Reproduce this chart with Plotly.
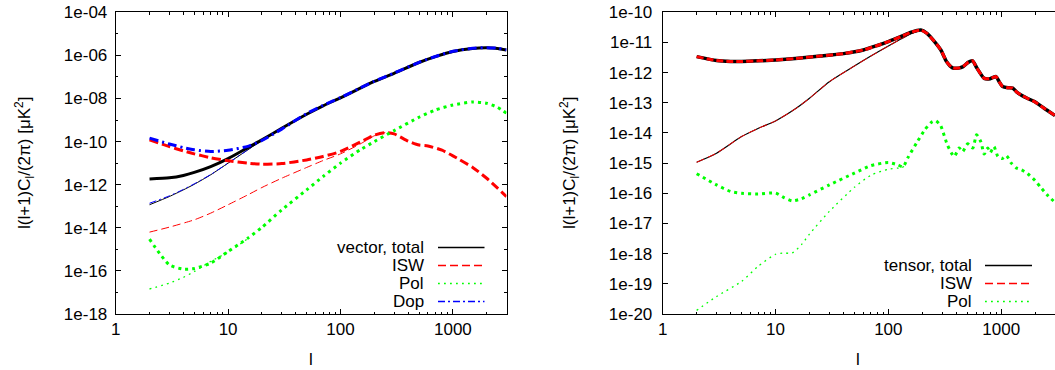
import numpy as np
import plotly.graph_objects as go

# Left panel: vector modes
vec_l = [2, 3, 4, 5, 7, 10, 15, 20, 30, 50, 70, 100, 150, 200, 300, 500, 700, 1000, 1500, 2000, 2500, 3000]
vec_total = [-11.73, -11.68, -11.57, -11.43, -11.16, -10.79, -10.28, -9.92, -9.38, -8.73, -8.34, -7.97,
             -7.52, -7.21, -6.83, -6.33, -6.06, -5.82, -5.68, -5.65, -5.68, -5.75]
vec_dop = [-9.84, -10.11, -10.28, -10.38, -10.46, -10.40, -10.22, -9.95, -9.42, -8.70, -8.32, -7.96,
           -7.51, -7.20, -6.82, -6.32, -6.05, -5.81, -5.67, -5.64, -5.67, -5.74]
vec_pol = [-14.53, -15.72, -15.92, -15.89, -15.64, -15.10, -14.48, -13.98, -13.17, -12.24, -11.62, -11.00,
           -10.38, -10.00, -9.49, -8.87, -8.53, -8.30, -8.16, -8.22, -8.41, -8.68]
vec_isw_l = [2, 3, 4, 5, 7, 10, 15, 20, 30, 50, 70, 100, 150, 200, 250, 300, 400, 500, 600, 800, 1000,
             1500, 2000, 2500, 3000]
vec_isw = [-9.92, -10.23, -10.43, -10.57, -10.75, -10.89, -11.00, -11.05, -11.02, -10.85, -10.69, -10.46,
           -10.02, -9.70, -9.58, -9.64, -9.98, -10.16, -10.20, -10.40, -10.66, -11.20, -11.70, -12.16, -12.55]
# thin (second model) vector curves
vec2_l = [2, 3, 4, 5, 7, 10, 15, 20]
vec2_total = [-12.93, -12.55, -12.24, -11.98, -11.54, -11.00, -10.38, -9.94]
vec2_dop = [-12.86, -12.52, -12.22, -11.96, -11.53, -11.00, -10.38, -9.95]
vec2_isw_l = [2, 3, 5, 7, 10, 15, 20, 30, 50, 70, 100, 150, 200, 250]
vec2_isw = [-14.20, -13.97, -13.63, -13.32, -12.93, -12.47, -12.13, -11.70, -11.20, -10.88, -10.57,
            -10.11, -9.73, -9.58]
vec2_pol_l = [2, 3, 4, 5, 7, 10, 15]
vec2_pol = [-16.84, -16.57, -16.30, -16.03, -15.56, -15.13, -14.50]

# Right panel: tensor modes
ten_l = [2, 3, 4, 5, 7, 10, 15, 25, 40, 60, 80, 100, 130, 160, 194, 220, 250, 292, 330, 370, 420, 460,
         510, 558, 610, 708, 800, 900, 960, 1030, 1150, 1265, 1380, 1500, 1700, 1970, 2400, 3000]
ten_total = [-11.47, -11.60, -11.63, -11.63, -11.61, -11.58, -11.53, -11.45, -11.37, -11.25, -11.10,
             -10.97, -10.80, -10.66, -10.59, -10.70, -10.92, -11.25, -11.65, -11.84, -11.85, -11.80,
             -11.66, -11.61, -11.85, -12.19, -12.20, -12.13, -12.30, -12.46, -12.50, -12.51, -12.65,
             -12.74, -12.85, -12.96, -13.18, -13.42]
ten_isw = list(ten_total)
ten2_l = [2, 3, 5, 7, 10, 15, 20, 30, 50, 70, 100, 130, 160, 194]
ten2_total = [-14.97, -14.67, -14.12, -13.85, -13.60, -13.20, -12.85, -12.30, -11.78, -11.45, -11.12,
              -10.88, -10.70, -10.59]
ten2_isw = list(ten2_total)
ten_pol_l = [2, 3, 4, 5, 7, 10, 12, 14, 17, 20, 30, 50, 70, 100, 120, 135, 150, 180, 210, 240, 262, 290,
             334, 383, 425, 455, 505, 560, 605, 662, 707, 760, 800, 863, 935, 1020, 1110, 1230, 1350,
             1515, 1720, 2000, 2260, 2600, 3000]
ten_pol = [-15.35, -15.72, -15.94, -16.00, -16.02, -15.99, -16.15, -16.25, -16.18, -16.05, -15.72, -15.33,
           -15.08, -14.98, -15.05, -15.12, -14.80, -14.30, -13.90, -13.65, -13.59, -13.75, -14.40, -14.78,
           -14.50, -14.62, -14.36, -14.50, -14.06, -14.30, -14.70, -14.50, -14.65, -14.45, -14.78, -14.85,
           -14.75, -15.00, -15.15, -15.22, -15.35, -15.58, -15.82, -16.08, -16.30]
ten2_pol_l = [2, 3, 5, 7, 10, 12, 14, 17, 20, 30, 50, 70, 100, 130, 140]
ten2_pol = [-19.88, -19.42, -18.92, -18.42, -18.02, -17.98, -17.98, -17.70, -17.35, -16.60, -15.80,
            -15.40, -15.20, -15.15, -15.10]

x_ticks = [1, 10, 100, 1000]
x_ticktext = ["1", "10", "100", "1000"]
left_y_exp = [-4, -6, -8, -10, -12, -14, -16, -18]
right_y_exp = [-10, -11, -12, -13, -14, -15, -16, -17, -18, -19, -20]

legend_left = ["vector, total", "ISW", "Pol", "Dop"]
legend_right = ["tensor, total", "ISW", "Pol"]

# ---------------- styles ----------------
FONT = "Liberation Sans, Arial, Helvetica, sans-serif"
W, H = 1055, 370
BLACK, RED, GREEN, BLUE = "#000000", "#ff0000", "#00ff00", "#0000ff"
DASH = "9px,4px"
DOT_THICK = "3px,4px"
DOT_THIN = "1.8px,4.2px"
THIN_DASH = "8px,4px"
THIN_DASHDOT = "7px,3px,2px,3px"
DASHDOT = "9px,4px,2px,4px"


def vals(exps):
    return [10.0 ** e for e in exps]


fig = go.Figure()


def add(xs, ys, color, width, dash, axis):
    fig.add_trace(go.Scatter(
        x=xs, y=vals(ys), mode="lines",
        line=dict(color=color, width=width, dash=dash, shape="spline", smoothing=0.6),
        xaxis="x" if axis == 1 else "x2", yaxis="y" if axis == 1 else "y2",
        showlegend=False, hoverinfo="skip"))


# left panel thin curves
add(vec2_l, vec2_total, BLACK, 1, "solid", 1)
add(vec2_isw_l, vec2_isw, RED, 1, THIN_DASH, 1)
add(vec2_pol_l, vec2_pol, GREEN, 1.3, DOT_THIN, 1)
add(vec2_l, vec2_dop, BLUE, 1, THIN_DASHDOT, 1)
# left panel thick curves
add(vec_l, vec_total, BLACK, 3, "solid", 1)
add(vec_isw_l, vec_isw, RED, 3, DASH, 1)
add(vec_l, vec_pol, GREEN, 3, DOT_THICK, 1)
add(vec_l, vec_dop, BLUE, 3, DASHDOT, 1)

# right panel
add(ten2_l, ten2_total, BLACK, 1.2, "solid", 2)
add(ten2_l, ten2_isw, RED, 1, THIN_DASH, 2)
add(ten2_pol_l, ten2_pol, GREEN, 1.3, DOT_THIN, 2)
add(ten_l, ten_total, BLACK, 3.5, "solid", 2)
add(ten_l, ten_isw, RED, 3, "7px,3px", 2)
add(ten_pol_l, ten_pol, GREEN, 3, DOT_THICK, 2)

# ---------------- axes ----------------
xmax = np.log10(3000)
ytop = 1 - 12.3 / H
ybot = 1 - 314 / H
minor_x = [m * 10 ** d for d in range(0, 4) for m in range(2, 10) if m * 10 ** d <= 3000]

common_x = dict(type="log", range=[0, xmax], showline=True, linecolor="black", linewidth=1,
                mirror="allticks", ticks="inside", ticklen=5, tickcolor="black",
                tickvals=x_ticks, ticktext=x_ticktext, showgrid=False, zeroline=False,
                automargin=False,
                tickfont=dict(family=FONT, size=17, color="black"),
                minor=dict(ticks="inside", ticklen=2.5, tickcolor="black", tickvals=minor_x,
                           showgrid=False))

fig.update_layout(
    width=W, height=H, margin=dict(l=0, r=0, t=0, b=0),
    paper_bgcolor="white", plot_bgcolor="white",
    font=dict(family=FONT, size=17, color="black"),
    xaxis=dict(domain=[115.7 / W, 506.5 / W], anchor="y", **common_x),
    xaxis2=dict(domain=[662.7 / W, 1.0], anchor="y2", **common_x),
    yaxis=dict(type="log", range=[-18, -4], domain=[ybot, ytop], anchor="x",
               showline=True, linecolor="black", linewidth=1, mirror="allticks",
               ticks="inside", ticklen=5, tickcolor="black", automargin=False,
               tickvals=vals(left_y_exp), ticktext=["1e%03d" % e for e in left_y_exp],
               showgrid=False, zeroline=False, ticklabelstandoff=4,
               tickfont=dict(family=FONT, size=17, color="black"),
               minor=dict(ticks="inside", ticklen=2.5, tickcolor="black",
                          tickvals=vals([e - 1 for e in left_y_exp[:-1]]), showgrid=False)),
    yaxis2=dict(type="log", range=[-20, -10], domain=[ybot, ytop], anchor="x2",
                showline=True, linecolor="black", linewidth=1, mirror=False,
                ticks="inside", ticklen=5, tickcolor="black", automargin=False,
                tickvals=vals(right_y_exp), ticktext=["1e%03d" % e for e in right_y_exp],
                showgrid=False, zeroline=False, ticklabelstandoff=6,
                tickfont=dict(family=FONT, size=17, color="black")),
)

ylabel = "l(l+1)C<sub>l</sub>/(2π) [μK<sup>2</sup>]"
ann = []
for xc in (25, 570):
    ann.append(dict(x=xc / W, y=1 - 163 / H, xref="paper", yref="paper", text=ylabel,
                    textangle=-90, showarrow=False, xanchor="center", yanchor="middle",
                    font=dict(family=FONT, size=17, color="black")))
for xc in (311, 858):
    ann.append(dict(x=xc / W, y=1 - 359 / H, xref="paper", yref="paper", text="l",
                    showarrow=False, xanchor="center", yanchor="middle",
                    font=dict(family=FONT, size=17, color="black")))

shapes = []
left_styles = [(BLACK, "solid"), (RED, THIN_DASH), (GREEN, DOT_THIN), (BLUE, THIN_DASHDOT)]
left_rows = [247.5, 265.5, 283.5, 301.5]
for name, (c, d), yr in zip(legend_left, left_styles, left_rows):
    ann.append(dict(x=426 / W, y=1 - yr / H, xref="paper", yref="paper", text=name,
                    showarrow=False, xanchor="right", yanchor="middle",
                    font=dict(family=FONT, size=17, color="black")))
    shapes.append(dict(type="line", xref="paper", yref="paper", x0=438 / W, x1=484.5 / W,
                       y0=1 - yr / H, y1=1 - yr / H, line=dict(color=c, width=1.3, dash=d)))
right_styles = [(BLACK, "solid"), (RED, THIN_DASH), (GREEN, DOT_THIN)]
right_rows = [265.5, 283.5, 301.5]
for name, (c, d), yr in zip(legend_right, right_styles, right_rows):
    ann.append(dict(x=973.5 / W, y=1 - yr / H, xref="paper", yref="paper", text=name,
                    showarrow=False, xanchor="right", yanchor="middle",
                    font=dict(family=FONT, size=17, color="black")))
    shapes.append(dict(type="line", xref="paper", yref="paper", x0=985 / W, x1=1032 / W,
                       y0=1 - yr / H, y1=1 - yr / H, line=dict(color=c, width=1.3, dash=d)))

fig.update_layout(annotations=ann, shapes=shapes)
fig.write_html("out.html", config={"displayModeBar": False, "staticPlot": True},
               post_script="document.body.style.margin='0';document.body.style.overflow='hidden';")
